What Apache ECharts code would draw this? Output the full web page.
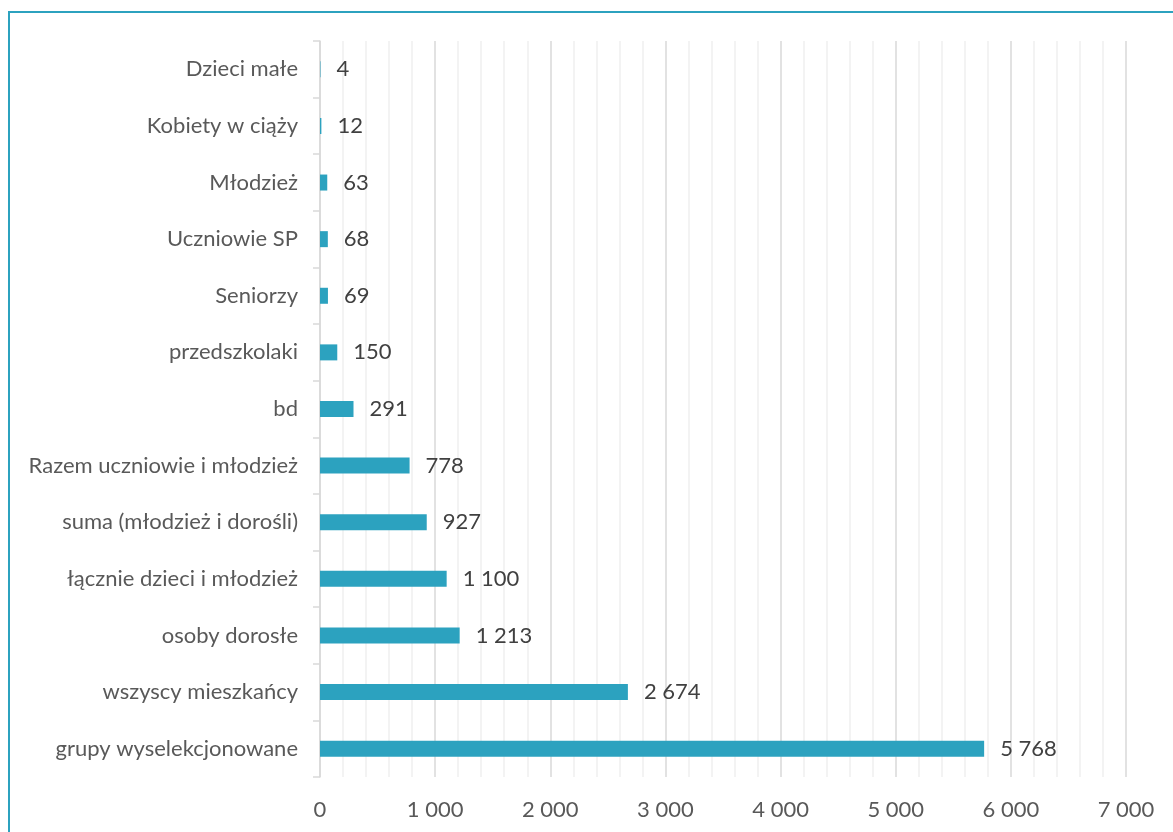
<!DOCTYPE html>
<html>
<head>
<meta charset="utf-8">
<script src="https://cdn.jsdelivr.net/npm/echarts@6/dist/echarts.min.js"></script>
<style>
  html, body { margin: 0; padding: 0; background: #fff; }
  #chart { width: 1173px; height: 832px; }
</style>
</head>
<body>
<div id="chart"></div>
<script>
// Target groups, listed top to bottom
const categories = [
  'Dzieci małe',
  'Kobiety w ciąży',
  'Młodzież',
  'Uczniowie SP',
  'Seniorzy',
  'przedszkolaki',
  'bd',
  'Razem uczniowie i młodzież',
  'suma (młodzież i dorośli)',
  'łącznie dzieci i młodzież',
  'osoby dorosłe',
  'wszyscy mieszkańcy',
  'grupy wyselekcjonowane'
];
const values = [4, 12, 63, 68, 69, 150, 291, 778, 927, 1100, 1213, 2674, 5768];

const xMin = 0;
const xMax = 7000;
const xStep = 1000;

const FONT = 'Lato, "Open Sans", sans-serif';
const FONT_SIZE = 22;
const BAR = '#2ca2bf';

// Polish number formatting: space as thousands separator
function fmt(v) {
  return String(Math.round(v)).replace(/\B(?=(\d{3})+(?!\d))/g, ' ');
}

const chart = echarts.init(document.getElementById('chart'), null, { renderer: 'canvas' });

chart.setOption({
  animation: false,
  backgroundColor: '#ffffff',
  graphic: [{
    type: 'rect',
    silent: true,
    z: 100,
    shape: { x: 9, y: 12, width: 1300, height: 1000 },
    style: { fill: 'none', stroke: BAR, lineWidth: 2 }
  }],
  grid: { left: 320, right: 47, top: 41, bottom: 55, containLabel: false },
  xAxis: {
    type: 'value',
    min: xMin,
    max: xMax,
    interval: xStep,
    axisLine: { show: false },
    axisTick: { show: false },
    axisLabel: {
      color: '#595959',
      fontFamily: FONT,
      fontSize: FONT_SIZE,
      margin: 22,
      formatter: fmt
    },
    splitLine: { show: true, lineStyle: { color: '#d9d9d9', width: 1.5 } },
    minorTick: { show: false, splitNumber: 5 },
    minorSplitLine: { show: true, lineStyle: { color: '#efefef', width: 1.5 } }
  },
  yAxis: {
    type: 'category',
    data: categories,
    inverse: true,
    axisLine: { show: true, lineStyle: { color: '#d9d9d9', width: 1.5 } },
    axisTick: { show: true, length: 7, lineStyle: { color: '#d9d9d9', width: 1.5 } },
    axisLabel: {
      color: '#595959',
      fontFamily: FONT,
      fontSize: FONT_SIZE,
      margin: 22,
      padding: [10, 0, 0, 0]
    },
    splitLine: { show: false }
  },
  series: [{
    type: 'bar',
    data: values,
    barWidth: 16,
    itemStyle: { color: BAR },
    label: {
      show: true,
      position: 'right',
      distance: 16,
      color: '#404040',
      fontFamily: FONT,
      fontSize: FONT_SIZE,
      padding: [10, 0, 0, 0],
      formatter: p => fmt(p.value)
    }
  }]
});
</script>
</body>
</html>
